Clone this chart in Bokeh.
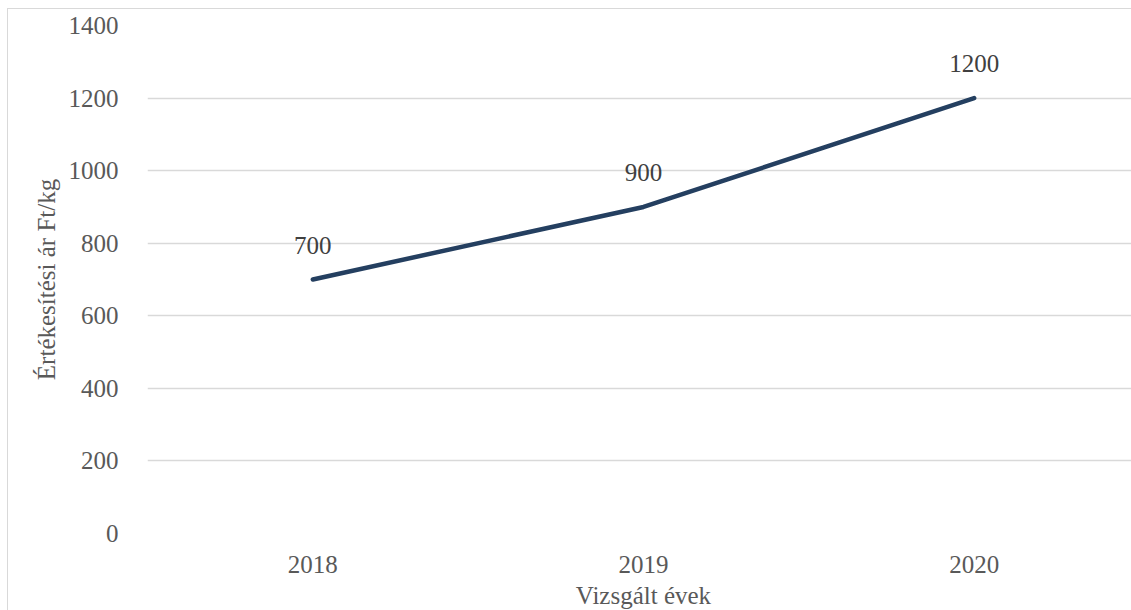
from bokeh.plotting import figure
from bokeh.models import FactorRange, Range1d, ColumnDataSource, FixedTicker, LabelSet
from bokeh.embed import file_html
from bokeh.resources import INLINE
from bokeh.core.properties import value

years = ["2018", "2019", "2020"]
prices = [700, 900, 1200]
price_labels = ["700", "900", "1200"]
y_ticks = [0, 200, 400, 600, 800, 1000, 1200, 1400]

FONT = "Liberation Serif"

src = ColumnDataSource(dict(x=years, y=prices, lab=price_labels))

p = figure(
    width=1131, height=602,
    x_range=FactorRange(*years, start=0.0, end=2.97, range_padding=0),
    y_range=Range1d(0, 1400),
    output_backend="svg", toolbar_location=None,
    min_border_left=139, min_border_right=0, min_border_top=16, min_border_bottom=76,
    styles={"margin-left": "7px", "margin-top": "8px",
            "border-left": "1px solid #d9d9d9", "border-top": "1px solid #d9d9d9"},
)
p.outline_line_color = None
p.background_fill_color = "white"
p.border_fill_color = "white"

p.line("x", "y", source=src, line_color="#243F60", line_width=4.5,
       line_cap="round", line_join="round")

labels = LabelSet(x="x", y="y", text="lab", source=src, y_offset=26,
                  text_align="center", text_baseline="bottom",
                  text_font=value(FONT), text_font_size="25px", text_color="#404040")
p.add_layout(labels)

p.yaxis.ticker = FixedTicker(ticks=y_ticks)
p.ygrid.grid_line_color = "#d9d9d9"
p.ygrid.grid_line_width = 1.5
p.xgrid.grid_line_color = None

for ax in (p.xaxis[0], p.yaxis[0]):
    ax.axis_line_color = None
    ax.major_tick_line_color = None
    ax.minor_tick_line_color = None
    ax.major_label_text_font = FONT
    ax.major_label_text_font_size = "25px"
    ax.major_label_text_color = "#595959"
    ax.axis_label_text_font = FONT
    ax.axis_label_text_font_size = "25px"
    ax.axis_label_text_font_style = "normal"
    ax.axis_label_text_color = "#595959"

p.yaxis.axis_label = "Értékesítési ár Ft/kg"
p.yaxis.major_label_standoff = 23
p.yaxis.axis_label_standoff = 6
p.xaxis.axis_label = "Vizsgált évek"
p.xaxis.major_label_standoff = 16
p.xaxis.axis_label_standoff = 6

open("out.html", "w").write(file_html(p, INLINE))
